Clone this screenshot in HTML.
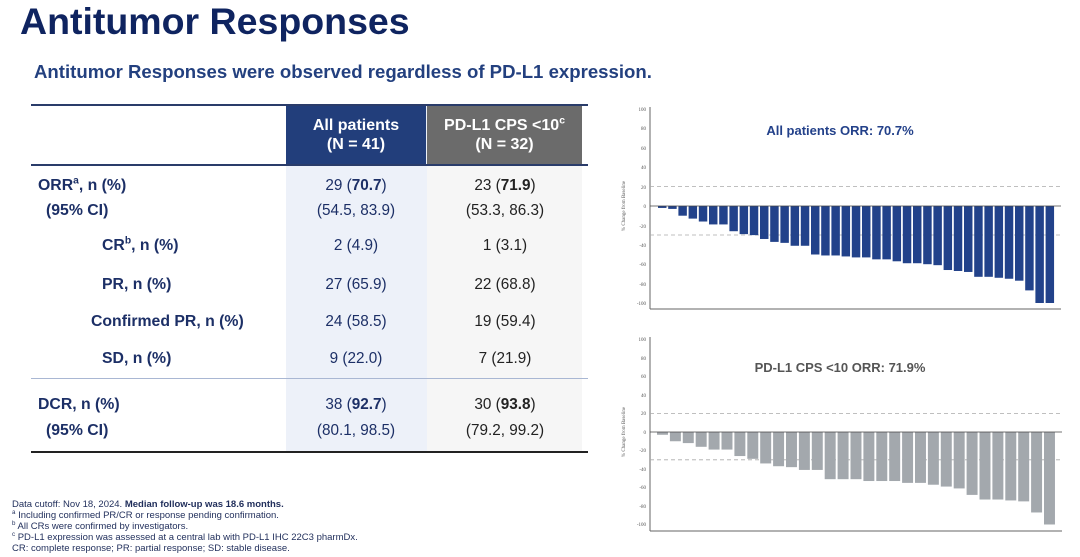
<!DOCTYPE html>
<html><head><meta charset="utf-8"><style>
body{margin:0;width:1080px;height:557px;background:#fff;position:relative;overflow:hidden;font-family:"Liberation Sans",Arial,sans-serif}
.a{position:absolute;white-space:nowrap}
.h1{left:20px;top:0px;font-size:37.5px;font-weight:bold;color:#0f2460}
.sub{left:34px;top:61px;font-size:18.6px;font-weight:bold;color:#23407f}
.lab{font-size:15.8px;font-weight:bold;color:#1c2f66}
.v{font-size:15.3px;width:140px;text-align:center}
.b{color:#1c2f66}.g{color:#222}
.fn{left:12px;font-size:9.5px;color:#1f2d5a}
sup{font-size:65%;line-height:0}
</style></head><body>
<div class="a h1">Antitumor Responses</div>
<div class="a sub">Antitumor Responses were observed regardless of PD-L1 expression.</div>

<div class="a" style="left:286px;top:104px;width:141px;height:348px;background:#edf1f9"></div>
<div class="a" style="left:427px;top:104px;width:155px;height:348px;background:#f6f6f6"></div>
<div class="a" style="left:286px;top:104px;width:140px;height:61px;background:#223e7b"></div>
<div class="a" style="left:427px;top:104px;width:155px;height:61px;background:#6b6b6b"></div>
<div class="a" style="left:31px;top:104px;width:557px;height:2px;background:#2a3c6a"></div>
<div class="a" style="left:31px;top:164px;width:557px;height:2px;background:#2a3c6a"></div>
<div class="a" style="left:31px;top:378px;width:557px;height:1px;background:#a9b7d3"></div>
<div class="a" style="left:31px;top:451px;width:557px;height:2px;background:#222"></div>

<div class="a" style="left:286px;top:116px;width:140px;text-align:center;color:#fff;font-weight:bold;font-size:16px;line-height:19px">All patients<br>(N = 41)</div>
<div class="a" style="left:427px;top:116px;width:155px;text-align:center;color:#fff;font-weight:bold;font-size:16px;line-height:19px">PD-L1 CPS &lt;10<sup>c</sup><br>(N = 32)</div>

<div class="a lab" style="left:38px;top:177px">ORR<sup>a</sup>, n (%)</div>
<div class="a lab" style="left:46px;top:202px">(95% CI)</div>
<div class="a lab" style="left:102px;top:237px">CR<sup>b</sup>, n (%)</div>
<div class="a lab" style="left:102px;top:276px">PR, n (%)</div>
<div class="a lab" style="left:91px;top:313px">Confirmed PR, n (%)</div>
<div class="a lab" style="left:102px;top:350px">SD, n (%)</div>
<div class="a lab" style="left:38px;top:396px">DCR, n (%)</div>
<div class="a lab" style="left:46px;top:422px">(95% CI)</div>

<div class="a v b" style="left:286px;top:177px">29 (<b>70.7</b>)</div>
<div class="a v b" style="left:286px;top:202px">(54.5, 83.9)</div>
<div class="a v b" style="left:286px;top:237px">2 (4.9)</div>
<div class="a v b" style="left:286px;top:276px">27 (65.9)</div>
<div class="a v b" style="left:286px;top:313px">24 (58.5)</div>
<div class="a v b" style="left:286px;top:350px">9 (22.0)</div>
<div class="a v b" style="left:286px;top:396px">38 (<b>92.7</b>)</div>
<div class="a v b" style="left:286px;top:422px">(80.1, 98.5)</div>

<div class="a v g" style="left:435px;top:177px">23 (<b>71.9</b>)</div>
<div class="a v g" style="left:435px;top:202px">(53.3, 86.3)</div>
<div class="a v g" style="left:435px;top:237px">1 (3.1)</div>
<div class="a v g" style="left:435px;top:276px">22 (68.8)</div>
<div class="a v g" style="left:435px;top:313px">19 (59.4)</div>
<div class="a v g" style="left:435px;top:350px">7 (21.9)</div>
<div class="a v g" style="left:435px;top:396px">30 (<b>93.8</b>)</div>
<div class="a v g" style="left:435px;top:422px">(79.2, 99.2)</div>

<div class="a fn" style="top:499px">Data cutoff: Nov 18, 2024. <b>Median follow-up was 18.6 months.</b></div>
<div class="a fn" style="top:510px"><sup>a</sup> Including confirmed PR/CR or response pending confirmation.</div>
<div class="a fn" style="top:521px"><sup>b</sup> All CRs were confirmed by investigators.</div>
<div class="a fn" style="top:532px"><sup>c</sup> PD-L1 expression was assessed at a central lab with PD-L1 IHC 22C3 pharmDx.</div>
<div class="a fn" style="top:543px">CR: complete response; PR: partial response; SD: stable disease.</div>

<svg class="a" style="left:0;top:0" width="1080" height="557" font-family="Liberation Serif,serif">
<g fill="#555" font-size="5" text-anchor="end">
<text x="646" y="111">100</text><text x="646" y="130">80</text><text x="646" y="150">60</text><text x="646" y="169">40</text><text x="646" y="189">20</text><text x="646" y="208">0</text><text x="646" y="228">-20</text><text x="646" y="247">-40</text><text x="646" y="266">-60</text><text x="646" y="286">-80</text><text x="646" y="305">-100</text>
</g>
<text transform="translate(625,206) rotate(-90)" font-size="5" fill="#555" text-anchor="middle">% Change from Baseline</text>
<line x1="650" y1="107" x2="650" y2="309" stroke="#666" stroke-width="1"/>
<line x1="650" y1="309" x2="1061" y2="309" stroke="#666" stroke-width="1"/>
<line x1="650" y1="186.6" x2="1061" y2="186.6" stroke="#aaa" stroke-width="0.8" stroke-dasharray="4,3"/>
<line x1="650" y1="235" x2="1061" y2="235" stroke="#aaa" stroke-width="0.8" stroke-dasharray="4,3"/>
<g transform="translate(658,206) scale(10.2,0.97)" fill="#22428a">
<rect x="0" y="0" width="0.83" height="2"/><rect x="1" y="0" width="0.83" height="3"/><rect x="2" y="0" width="0.83" height="10"/><rect x="3" y="0" width="0.83" height="13"/><rect x="4" y="0" width="0.83" height="16"/><rect x="5" y="0" width="0.83" height="19"/><rect x="6" y="0" width="0.83" height="19"/><rect x="7" y="0" width="0.83" height="26"/><rect x="8" y="0" width="0.83" height="29"/><rect x="9" y="0" width="0.83" height="30"/><rect x="10" y="0" width="0.83" height="34"/><rect x="11" y="0" width="0.83" height="37"/><rect x="12" y="0" width="0.83" height="38"/><rect x="13" y="0" width="0.83" height="41"/><rect x="14" y="0" width="0.83" height="41"/><rect x="15" y="0" width="0.83" height="50"/><rect x="16" y="0" width="0.83" height="51"/><rect x="17" y="0" width="0.83" height="51"/><rect x="18" y="0" width="0.83" height="52"/><rect x="19" y="0" width="0.83" height="53"/><rect x="20" y="0" width="0.83" height="53"/><rect x="21" y="0" width="0.83" height="55"/><rect x="22" y="0" width="0.83" height="55"/><rect x="23" y="0" width="0.83" height="57"/><rect x="24" y="0" width="0.83" height="59"/><rect x="25" y="0" width="0.83" height="59"/><rect x="26" y="0" width="0.83" height="60"/><rect x="27" y="0" width="0.83" height="61"/><rect x="28" y="0" width="0.83" height="66"/><rect x="29" y="0" width="0.83" height="67"/><rect x="30" y="0" width="0.83" height="68"/><rect x="31" y="0" width="0.83" height="73"/><rect x="32" y="0" width="0.83" height="73"/><rect x="33" y="0" width="0.83" height="74"/><rect x="34" y="0" width="0.83" height="75"/><rect x="35" y="0" width="0.83" height="77"/><rect x="36" y="0" width="0.83" height="87"/><rect x="37" y="0" width="0.83" height="100"/><rect x="38" y="0" width="0.83" height="100"/>
</g>
<line x1="650" y1="206" x2="1061" y2="206" stroke="#444" stroke-width="0.8"/>
<text x="840" y="135" font-family="Liberation Sans,sans-serif" font-weight="bold" font-size="13" fill="#23418a" text-anchor="middle">All patients ORR: 70.7%</text>

<g fill="#555" font-size="5" text-anchor="end">
<text x="646" y="341">100</text><text x="646" y="360">80</text><text x="646" y="378">60</text><text x="646" y="397">40</text><text x="646" y="415">20</text><text x="646" y="434">0</text><text x="646" y="452">-20</text><text x="646" y="471">-40</text><text x="646" y="489">-60</text><text x="646" y="508">-80</text><text x="646" y="526">-100</text>
</g>
<text transform="translate(625,432) rotate(-90)" font-size="5" fill="#555" text-anchor="middle">% Change from Baseline</text>
<line x1="650" y1="337" x2="650" y2="531" stroke="#666" stroke-width="1"/>
<line x1="650" y1="531" x2="1062" y2="531" stroke="#666" stroke-width="1"/>
<line x1="650" y1="413.5" x2="1062" y2="413.5" stroke="#aaa" stroke-width="0.8" stroke-dasharray="4,3"/>
<line x1="650" y1="459.8" x2="1062" y2="459.8" stroke="#aaa" stroke-width="0.8" stroke-dasharray="4,3"/>
<g transform="translate(657,432) scale(12.9,0.925)" fill="#a3a8ad">
<rect x="0" y="0" width="0.85" height="3"/><rect x="1" y="0" width="0.85" height="10"/><rect x="2" y="0" width="0.85" height="12"/><rect x="3" y="0" width="0.85" height="16"/><rect x="4" y="0" width="0.85" height="19"/><rect x="5" y="0" width="0.85" height="19"/><rect x="6" y="0" width="0.85" height="26"/><rect x="7" y="0" width="0.85" height="29"/><rect x="8" y="0" width="0.85" height="34"/><rect x="9" y="0" width="0.85" height="37"/><rect x="10" y="0" width="0.85" height="38"/><rect x="11" y="0" width="0.85" height="41"/><rect x="12" y="0" width="0.85" height="41"/><rect x="13" y="0" width="0.85" height="51"/><rect x="14" y="0" width="0.85" height="51"/><rect x="15" y="0" width="0.85" height="51"/><rect x="16" y="0" width="0.85" height="53"/><rect x="17" y="0" width="0.85" height="53"/><rect x="18" y="0" width="0.85" height="53"/><rect x="19" y="0" width="0.85" height="55"/><rect x="20" y="0" width="0.85" height="55"/><rect x="21" y="0" width="0.85" height="57"/><rect x="22" y="0" width="0.85" height="59"/><rect x="23" y="0" width="0.85" height="61"/><rect x="24" y="0" width="0.85" height="68"/><rect x="25" y="0" width="0.85" height="73"/><rect x="26" y="0" width="0.85" height="73"/><rect x="27" y="0" width="0.85" height="74"/><rect x="28" y="0" width="0.85" height="75"/><rect x="29" y="0" width="0.85" height="87"/><rect x="30" y="0" width="0.85" height="100"/>
</g>
<line x1="650" y1="432" x2="1062" y2="432" stroke="#444" stroke-width="0.8"/>
<text x="840" y="372" font-family="Liberation Sans,sans-serif" font-weight="bold" font-size="13" fill="#555" text-anchor="middle">PD-L1 CPS &lt;10 ORR: 71.9%</text>
</svg>
</body></html>
